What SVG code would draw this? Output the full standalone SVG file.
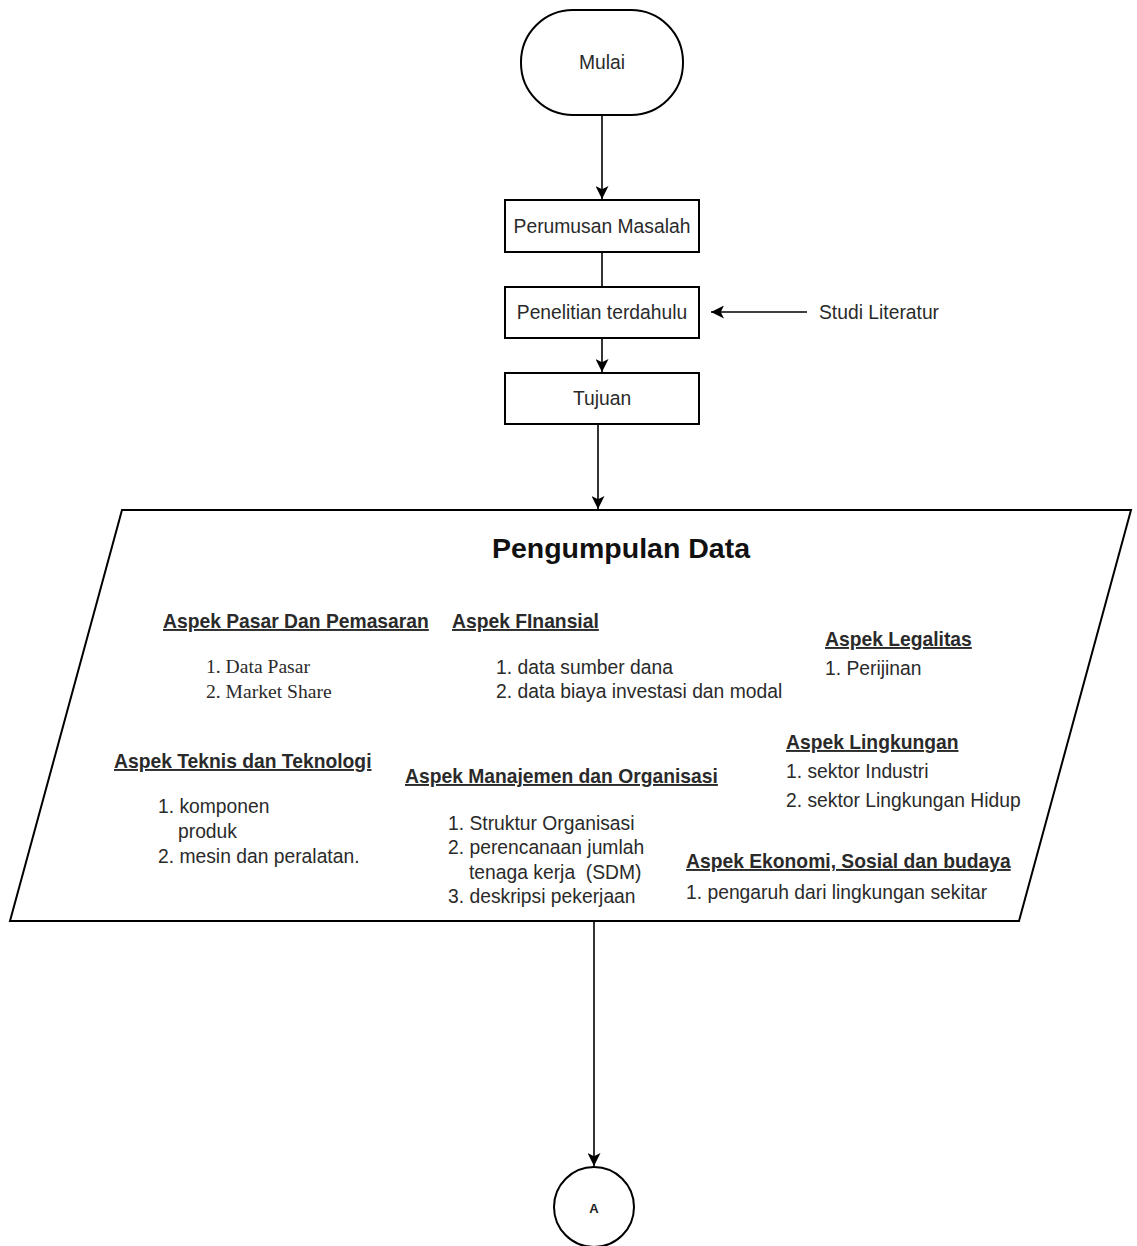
<svg xmlns="http://www.w3.org/2000/svg" width="1137" height="1246" viewBox="0 0 1137 1246">
<defs>
<style>
.shape{fill:#fff;stroke:#000;stroke-width:2}
.edge{fill:none;stroke:#000;stroke-width:1.6}
.t{font-family:"Liberation Sans",Arial,sans-serif;font-size:19.3px;fill:#2a2a2a}
.c{text-anchor:middle;dominant-baseline:central}
.h{font-family:"Liberation Sans",Arial,sans-serif;font-size:19.3px;font-weight:bold;fill:#2a2a2a;text-decoration:underline}
.s{font-family:"Liberation Serif","Times New Roman",serif;font-size:19.6px;fill:#2a2a2a}
</style>
<marker id="arr" viewBox="0 0 10 10" refX="10" refY="5" markerWidth="13" markerHeight="13" markerUnits="userSpaceOnUse" orient="auto">
<path d="M0,0 L10,5 L0,10 L2.5,5 z" fill="#000"/>
</marker>
</defs>
<rect width="1137" height="1246" fill="#fff"/>
<g id="connectors">
<line class="edge" x1="602" y1="115" x2="602" y2="199" marker-end="url(#arr)"/>
<line class="edge" x1="602" y1="252" x2="602" y2="287"/>
<line class="edge" x1="602" y1="338" x2="602" y2="372" marker-end="url(#arr)"/>
<line class="edge" x1="807" y1="312" x2="711" y2="312" marker-end="url(#arr)"/>
<line class="edge" x1="598" y1="424" x2="598" y2="509" marker-end="url(#arr)"/>
<line class="edge" x1="594" y1="921" x2="594" y2="1166" marker-end="url(#arr)"/>
</g>
<g id="mulai">
<rect class="shape" x="521" y="10" width="162" height="105" rx="52" ry="52"/>
<text class="t c" x="602" y="62">Mulai</text>
</g>
<g id="perumusan">
<rect class="shape" x="505" y="200" width="194" height="52"/>
<text class="t c" x="602" y="226">Perumusan Masalah</text>
</g>
<g id="penelitian">
<rect class="shape" x="505" y="287" width="194" height="51"/>
<text class="t c" x="602" y="312">Penelitian terdahulu</text>
</g>
<g id="studi">
<text class="t" x="819" y="312" dominant-baseline="central">Studi Literatur</text>
</g>
<g id="tujuan">
<rect class="shape" x="505" y="373" width="194" height="51"/>
<text class="t c" x="602" y="398">Tujuan</text>
</g>
<g id="pengumpulan">
<polygon class="shape" points="122,510 1131,510 1019,921 10,921"/>
<text x="621" y="548" text-anchor="middle" dominant-baseline="central" style="font-family:'Liberation Sans',Arial,sans-serif;font-size:28.5px;font-weight:bold;fill:#111">Pengumpulan Data</text>
<text class="h" x="163" y="628">Aspek Pasar Dan Pemasaran</text>
<text class="s" x="206" y="673">1. Data Pasar</text>
<text class="s" x="206" y="698">2. Market Share</text>
<text class="h" x="452" y="628">Aspek FInansial</text>
<text class="t" x="496" y="674">1. data sumber dana</text>
<text class="t" x="496" y="698">2. data biaya investasi dan modal</text>
<text class="h" x="825" y="646">Aspek Legalitas</text>
<text class="t" x="825" y="675">1. Perijinan</text>
<text class="h" x="786" y="749">Aspek Lingkungan</text>
<text class="t" x="786" y="778">1. sektor Industri</text>
<text class="t" x="786" y="807">2. sektor Lingkungan Hidup</text>
<text class="h" x="114" y="768">Aspek Teknis dan Teknologi</text>
<text class="t" x="158" y="813">1. komponen</text>
<text class="t" x="178" y="838">produk</text>
<text class="t" x="158" y="863">2. mesin dan peralatan.</text>
<text class="h" x="405" y="783">Aspek Manajemen dan Organisasi</text>
<text class="t" x="448" y="830">1. Struktur Organisasi</text>
<text class="t" x="448" y="854">2. perencanaan jumlah</text>
<text class="t" x="469" y="879" xml:space="preserve">tenaga kerja  (SDM)</text>
<text class="t" x="448" y="903">3. deskripsi pekerjaan</text>
<text class="h" x="686" y="868">Aspek Ekonomi, Sosial dan budaya</text>
<text class="t" x="686" y="899">1. pengaruh dari lingkungan sekitar</text>
</g>
<g id="a">
<circle class="shape" cx="594" cy="1207" r="40"/>
<text x="594" y="1208" text-anchor="middle" dominant-baseline="central" style="font-family:'Liberation Sans',Arial,sans-serif;font-size:13px;font-weight:bold;fill:#222">A</text>
</g>
</svg>
